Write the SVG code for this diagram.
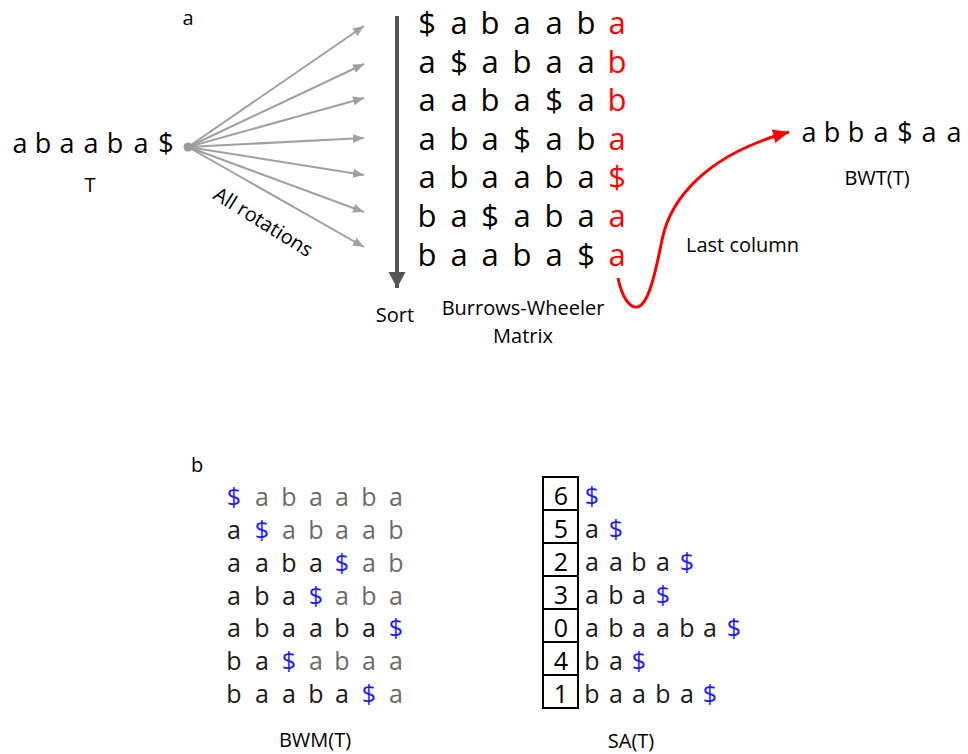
<svg xmlns="http://www.w3.org/2000/svg" width="968" height="754" viewBox="0 0 968 754">
  <style>
    text { font-family: "Open Sans", "Liberation Sans", sans-serif; fill: #000; }
    .lbl { font-size: 20px; }
    .mid { text-anchor: middle; }
    .big { font-size: 31px; text-anchor: middle; }
    .str { font-size: 27px; text-anchor: middle; }
    .sm { font-size: 25px; text-anchor: middle; }
    .red { fill: #ff0000; }
    .blk { fill: #1a1a1a; }
    .gry { fill: #6b6b6b; }
    .blu { fill: #1a1aff; }
    .fan { stroke: #a0a0a0; stroke-width: 2; fill: none; marker-end: url(#headGray); }
    .box { fill: #fff; stroke: #000; stroke-width: 2; }
  </style>
  <defs>
    <marker id="headGray" markerUnits="userSpaceOnUse" markerWidth="12" markerHeight="10" refX="11" refY="5" orient="auto">
      <path d="M0,0.5 L11,5 L0,9.5 Z" fill="#a0a0a0"/>
    </marker>
    <marker id="headDark" markerUnits="userSpaceOnUse" markerWidth="18" markerHeight="18" refX="16" refY="9" orient="auto">
      <path d="M0,0.5 L16,9 L0,17.5 Z" fill="#555"/>
    </marker>
    <marker id="headRed" markerUnits="userSpaceOnUse" markerWidth="18" markerHeight="16" refX="16" refY="8" orient="auto">
      <path d="M0,1 L16,8 L0,15 Z" fill="#ff0000"/>
    </marker>
  </defs>

  <!-- panel labels -->
  <text class="lbl mid" x="188" y="25">a</text>
  <text class="lbl mid" x="197" y="472">b</text>

  <!-- input string T -->
  <g id="input-T">
    <text class="str" x="20 43 67 91 115 141 166" y="153">abaaba$</text>
    <text class="lbl mid" x="90" y="192">T</text>
  </g>

  <!-- Burrows-Wheeler matrix with last column highlighted -->
  <g id="bwm-matrix">
    <text class="big" x="427 459 490 522 554 586" y="34">$abaab<tspan class="red" x="617">a</tspan></text>
    <text class="big" x="427 459 490 522 554 586" y="73">a$abaa<tspan class="red" x="617">b</tspan></text>
    <text class="big" x="427 459 490 522 554 586" y="111">aaba$a<tspan class="red" x="617">b</tspan></text>
    <text class="big" x="427 459 490 522 554 586" y="150">aba$ab<tspan class="red" x="617">a</tspan></text>
    <text class="big" x="427 459 490 522 554 586" y="188">abaaba<tspan class="red" x="617">$</tspan></text>
    <text class="big" x="427 459 490 522 554 586" y="227">ba$aba<tspan class="red" x="617">a</tspan></text>
    <text class="big" x="427 459 490 522 554 586" y="266">baaba$<tspan class="red" x="617">a</tspan></text>
    <text class="lbl mid" x="523" y="315">Burrows-Wheeler</text>
    <text class="lbl mid" x="523" y="343">Matrix</text>
  </g>

  <!-- resulting BWT string -->
  <g id="bwt">
    <text class="str" x="809 832 856 881 905 929 954" y="142">abba$aa</text>
    <text class="lbl mid" x="877" y="185">BWT(T)</text>
  </g>

  <!-- connectors -->
  <g id="connectors">
    <line class="fan" x1="188" y1="147" x2="364" y2="26"/>
    <line class="fan" x1="188" y1="147" x2="364" y2="64"/>
    <line class="fan" x1="188" y1="147" x2="364" y2="98"/>
    <line class="fan" x1="188" y1="147" x2="364" y2="138"/>
    <line class="fan" x1="188" y1="147" x2="364" y2="175"/>
    <line class="fan" x1="188" y1="147" x2="364" y2="212"/>
    <line class="fan" x1="188" y1="147" x2="364" y2="247"/>
    <circle cx="188" cy="147" r="4.5" fill="#999"/>
    <text class="lbl" transform="translate(212,198) rotate(32)">All rotations</text>

    <line x1="397" y1="16" x2="397" y2="288" stroke="#555" stroke-width="4" marker-end="url(#headDark)"/>
    <text class="lbl mid" x="395" y="322">Sort</text>

    <path d="M618,278 C622,298 630,308 637,307 C648,306 655,275 662,240 C670,200 705,155 789,132" fill="none" stroke="#ff0000" stroke-width="3" marker-end="url(#headRed)"/>
    <text class="lbl" x="686" y="252">Last column</text>
  </g>

  <!-- BWM(T) with the $ in each row marked -->
  <g id="bwm-b">
    <text class="sm" y="506"><tspan class="blu" x="234">$</tspan><tspan class="gry" x="262 289 316 342 369 396">abaaba</tspan></text>
    <text class="sm" y="539"><tspan class="blk" x="234">a</tspan><tspan class="blu" x="262">$</tspan><tspan class="gry" x="289 316 342 369 396">abaab</tspan></text>
    <text class="sm" y="572"><tspan class="blk" x="234 262 289 316">aaba</tspan><tspan class="blu" x="342">$</tspan><tspan class="gry" x="369 396">ab</tspan></text>
    <text class="sm" y="605"><tspan class="blk" x="234 262 289">aba</tspan><tspan class="blu" x="316">$</tspan><tspan class="gry" x="342 369 396">aba</tspan></text>
    <text class="sm" y="637"><tspan class="blk" x="234 262 289 316 342 369">abaaba</tspan><tspan class="blu" x="396">$</tspan></text>
    <text class="sm" y="670"><tspan class="blk" x="234 262">ba</tspan><tspan class="blu" x="289">$</tspan><tspan class="gry" x="316 342 369 396">abaa</tspan></text>
    <text class="sm" y="703"><tspan class="blk" x="234 262 289 316 342">baaba</tspan><tspan class="blu" x="369">$</tspan><tspan class="gry" x="396">a</tspan></text>
    <text class="lbl mid" x="315" y="747">BWM(T)</text>
  </g>

  <!-- suffix array with the sorted suffixes -->
  <g id="suffix-array">
    <rect class="box" x="543" y="477" width="35" height="33"/>
    <rect class="box" x="543" y="510" width="35" height="33"/>
    <rect class="box" x="543" y="543" width="35" height="33"/>
    <rect class="box" x="543" y="576" width="35" height="33"/>
    <rect class="box" x="543" y="609" width="35" height="33"/>
    <rect class="box" x="543" y="642" width="35" height="33"/>
    <rect class="box" x="543" y="675" width="35" height="33"/>
    <text class="sm" x="561" y="505">6</text>
    <text class="sm" x="561" y="538">5</text>
    <text class="sm" x="561" y="571">2</text>
    <text class="sm" x="561" y="604">3</text>
    <text class="sm" x="561" y="637">0</text>
    <text class="sm" x="561" y="670">4</text>
    <text class="sm" x="561" y="703">1</text>
    <text class="sm" y="505"><tspan class="blu" x="592">$</tspan></text>
    <text class="sm" y="538"><tspan class="blk" x="592">a</tspan><tspan class="blu" x="616">$</tspan></text>
    <text class="sm" y="571"><tspan class="blk" x="592 616 639 663">aaba</tspan><tspan class="blu" x="687">$</tspan></text>
    <text class="sm" y="604"><tspan class="blk" x="592 616 639">aba</tspan><tspan class="blu" x="663">$</tspan></text>
    <text class="sm" y="637"><tspan class="blk" x="592 616 639 663 687 710">abaaba</tspan><tspan class="blu" x="734">$</tspan></text>
    <text class="sm" y="670"><tspan class="blk" x="592 616">ba</tspan><tspan class="blu" x="639">$</tspan></text>
    <text class="sm" y="703"><tspan class="blk" x="592 616 639 663 687">baaba</tspan><tspan class="blu" x="710">$</tspan></text>
    <text class="lbl mid" x="631" y="748">SA(T)</text>
  </g>
</svg>
